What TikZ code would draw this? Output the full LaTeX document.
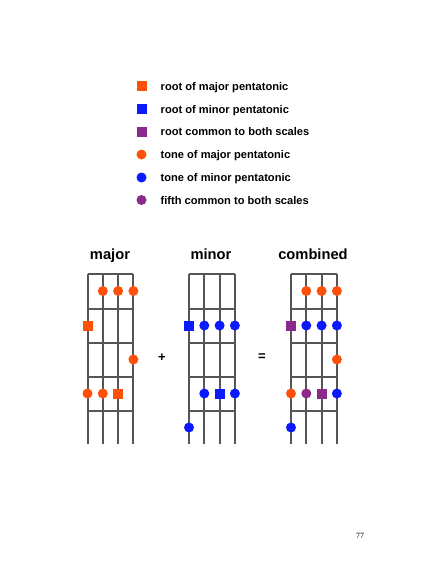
\documentclass[tikz,border=0pt]{standalone}
\usepackage{fontspec}
\setmainfont{Liberation Sans}
\newfontfamily\pagefont{Liberation Serif}
\definecolor{maj}{RGB}{255,80,10}
\definecolor{mnr}{RGB}{10,25,255}
\definecolor{both}{RGB}{140,40,140}
\definecolor{fret}{RGB}{85,85,85}
\begin{document}
\begin{tikzpicture}[x=1pt,y=-1pt,
  dotc/.style={circle,fill=#1,inner sep=0pt,minimum size=10pt},
  sqr/.style={rectangle,fill=#1,inner sep=0pt,minimum size=10pt},
  legtext/.style={anchor=base west,font=\fontsize{11.1}{13}\selectfont\bfseries,inner sep=0pt},
  title/.style={anchor=base,font=\fontsize{14.7}{17}\selectfont\bfseries,inner sep=0pt},
  sym/.style={font=\fontsize{13}{15}\selectfont\bfseries,inner sep=0pt},
  wire/.style={draw=fret,line width=2pt}]
\useasboundingbox (0,0) rectangle (427,565);
% legend
\node[sqr=maj]  (l1) at (141.5,86) {};
\node[sqr=mnr]  (l2) at (141.5,109) {};
\node[sqr=both] (l3) at (141.5,131.5) {};
\node[dotc=maj] (l4) at (141.5,154.5) {};
\node[dotc=mnr] (l5) at (141.5,177.5) {};
\node[dotc=both](l6) at (141.5,200) {};
\node[legtext] (t1) at (160.5,90) {root of major pentatonic};
\node[legtext] (t2) at (160.5,113) {root of minor pentatonic};
\node[legtext] (t3) at (160.5,135.5) {root common to both scales};
\node[legtext] (t4) at (160.5,158.5) {tone of major pentatonic};
\node[legtext] (t5) at (160.5,181.5) {tone of minor pentatonic};
\node[legtext] (t6) at (160.5,204) {fifth common to both scales};
% fretboards
\foreach \n/\x in {A/87.5,B/189,C/291}{
  \foreach \s in {0,1,2,3}{
    \draw[wire] (\x+15.3*\s,274) -- (\x+15.3*\s,444);
  }
  \foreach \y in {274,308.5,343,377,411}{
    \draw[wire] (\x,\y) -- (\x+45.9,\y);
  }
}
\node[title] (tmaj) at (110,259.5) {major};
\node[title] (tmin) at (211,259.5) {minor};
\node[title] (tcomb) at (313,259.5) {combined};
\node[sym] (plus) at (162,358) {+};
\node[sym] (eq) at (262,357) {=};
% major
\foreach \s in {1,2,3}{ \node[dotc=maj] at (87.5+15.3*\s,291) {}; }
\node[sqr=maj] at (87.5,325.5) {};
\node[dotc=maj] at (87.5+45.9,359.5) {};
\node[dotc=maj] at (87.5,393.5) {};
\node[dotc=maj] at (87.5+15.3,393.5) {};
\node[sqr=maj] at (87.5+30.6,393.5) {};
% minor
\node[sqr=mnr] at (189,325.5) {};
\foreach \s in {1,2,3}{ \node[dotc=mnr] at (189+15.3*\s,325.5) {}; }
\node[dotc=mnr] at (189+15.3,393.5) {};
\node[sqr=mnr] at (189+30.6,393.5) {};
\node[dotc=mnr] at (189+45.9,393.5) {};
\node[dotc=mnr] at (189,427.5) {};
% combined
\foreach \s in {1,2,3}{ \node[dotc=maj] at (291+15.3*\s,291) {}; }
\node[sqr=both] at (291,325.5) {};
\foreach \s in {1,2,3}{ \node[dotc=mnr] at (291+15.3*\s,325.5) {}; }
\node[dotc=maj] at (291+45.9,359.5) {};
\node[dotc=maj] at (291,393.5) {};
\node[dotc=both] at (291+15.3,393.5) {};
\node[sqr=both] at (291+30.6,393.5) {};
\node[dotc=mnr] at (291+45.9,393.5) {};
\node[dotc=mnr] at (291,427.5) {};
% page number
\node[font=\pagefont\fontsize{8}{9}\selectfont,inner sep=0pt] (pg) at (360,535.5) {77};
\end{tikzpicture}
\end{document}
